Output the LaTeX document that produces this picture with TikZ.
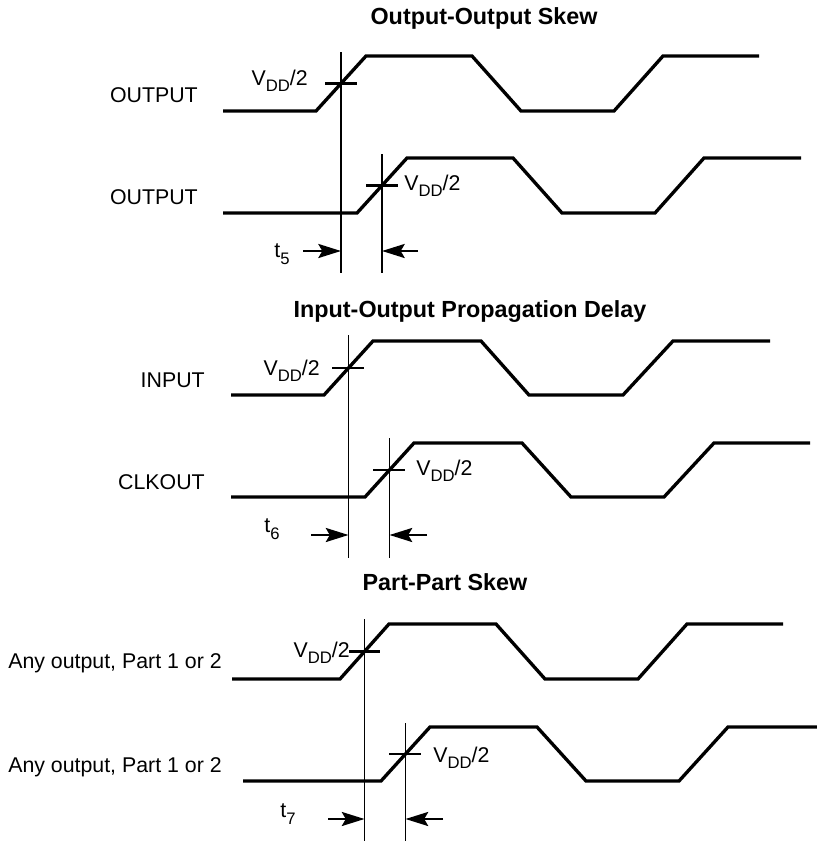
\documentclass[tikz,border=0pt]{standalone}
\usepackage{fontspec}
\setmainfont{Liberation Sans}
\usetikzlibrary{arrows.meta}

\newcommand{\lowsub}[1]{\raisebox{-0.3em}{\fontsize{12.5}{14}\selectfont #1}}

\tikzset{
	wave/.style={line width=2.5pt},
	refline/.style={line width=1.1pt},
	crosstick/.style={line width=1.8pt},
	dimarrow/.style={line width=2pt,-{Stealth[length=17pt,width=10.5pt,inset=3pt]}},
	sig/.style={inner sep=0pt,font=\fontsize{16}{19}\selectfont},
	heading/.style={inner sep=0pt,font=\fontsize{17.5}{21}\selectfont\bfseries},
}

\begin{document}
\begin{tikzpicture}[x=0.75pt,y=-0.75pt]
	\useasboundingbox (0,0) rectangle (817,846);

	% Output-Output Skew
	\node[heading] (h1) at (484,18) {Output-Output Skew};
	\node[sig,anchor=east] (o1) at (198,95)  {OUTPUT};
	\node[sig,anchor=east] (o2) at (198,197) {OUTPUT};
	\draw[wave] (223,111) -- (316,111) -- (366,56) -- (472,56) -- (521,111) -- (614,111) -- (663,56) -- (759,56);
	\draw[wave] (223,213) -- (357,213) -- (407,158) -- (513,158) -- (562,213) -- (655,213) -- (704,158) -- (801,158);
	\coordinate (a1t) at (341,52);
	\coordinate (a1b) at (341,273);
	\coordinate (a2t) at (382,154);
	\coordinate (a2b) at (382,273);
	\draw[refline] (a1t) -- (a1b);
	\draw[refline] (a2t) -- (a2b);
	\draw[crosstick] (325,83.5) -- (357,83.5);
	\draw[crosstick] (366,185.5) -- (398,185.5);
	\node[sig,anchor=base east] (v1) at (308,85)  {V\lowsub{DD}/2};
	\node[sig,anchor=base west] (v2) at (404,190) {V\lowsub{DD}/2};
	\node[sig] (t5) at (282,254) {t\lowsub{5}};
	\coordinate (p5a) at (303,251);
	\coordinate (p5b) at (418,251);
	\draw[dimarrow] (p5a) -- (p5a -| a1t);
	\draw[dimarrow] (p5b) -- (p5b -| a2t);

	% Input-Output Propagation Delay
	\node[heading] (h2) at (470,312) {Input-Output Propagation Delay};
	\node[sig,anchor=east] (in) at (205,380) {INPUT};
	\node[sig,anchor=east] (ck) at (205,482) {CLKOUT};
	\draw[wave] (231,395) -- (324,395) -- (373,341) -- (481,341) -- (529,395) -- (623,395) -- (673,341) -- (770,341);
	\draw[wave] (231,497) -- (365,497) -- (414,443) -- (522,443) -- (571,497) -- (664,497) -- (714,443) -- (810,443);
	\coordinate (b1t) at (348.5,335);
	\coordinate (b1b) at (348.5,558);
	\coordinate (b2t) at (389.5,438);
	\coordinate (b2b) at (389.5,558);
	\draw[refline] (b1t) -- (b1b);
	\draw[refline] (b2t) -- (b2b);
	\draw[crosstick] (332,368) -- (364,368);
	\draw[crosstick] (373,470) -- (405,470);
	\node[sig,anchor=base east] (v3) at (320,375) {V\lowsub{DD}/2};
	\node[sig,anchor=base west] (v4) at (416,475) {V\lowsub{DD}/2};
	\node[sig] (t6) at (272,529) {t\lowsub{6}};
	\coordinate (p6a) at (311,535);
	\coordinate (p6b) at (427,535);
	\draw[dimarrow] (p6a) -- (p6a -| b1t);
	\draw[dimarrow] (p6b) -- (p6b -| b2t);

	% Part-Part Skew
	\node[heading] (h3) at (445,582) {Part-Part Skew};
	\node[sig,anchor=east] (pa) at (222,663) {Any output, Part 1 or 2};
	\node[sig,anchor=east] (pb) at (222,767) {Any output, Part 1 or 2};
	\draw[wave] (232,679) -- (340,679) -- (389,624) -- (496,624) -- (545,679) -- (638,679) -- (687,624) -- (783,624);
	\draw[wave] (243,781) -- (381,781) -- (430,727) -- (537,727) -- (586,781) -- (679,781) -- (728,727) -- (817,727);
	\coordinate (c1t) at (364.5,619);
	\coordinate (c1b) at (364.5,841);
	\coordinate (c2t) at (405.5,723);
	\coordinate (c2b) at (405.5,841);
	\draw[refline] (c1t) -- (c1b);
	\draw[refline] (c2t) -- (c2b);
	\draw[crosstick] (349,651.5) -- (380,651.5);
	\draw[crosstick] (389,754) -- (421,754);
	\node[sig,anchor=base east] (v5) at (350,657) {V\lowsub{DD}/2};
	\node[sig,anchor=base west] (v6) at (433,762) {V\lowsub{DD}/2};
	\node[sig] (t7) at (288,814) {t\lowsub{7}};
	\coordinate (p7a) at (328,819);
	\coordinate (p7b) at (443,819);
	\draw[dimarrow] (p7a) -- (p7a -| c1t);
	\draw[dimarrow] (p7b) -- (p7b -| c2t);

\end{tikzpicture}
\end{document}
